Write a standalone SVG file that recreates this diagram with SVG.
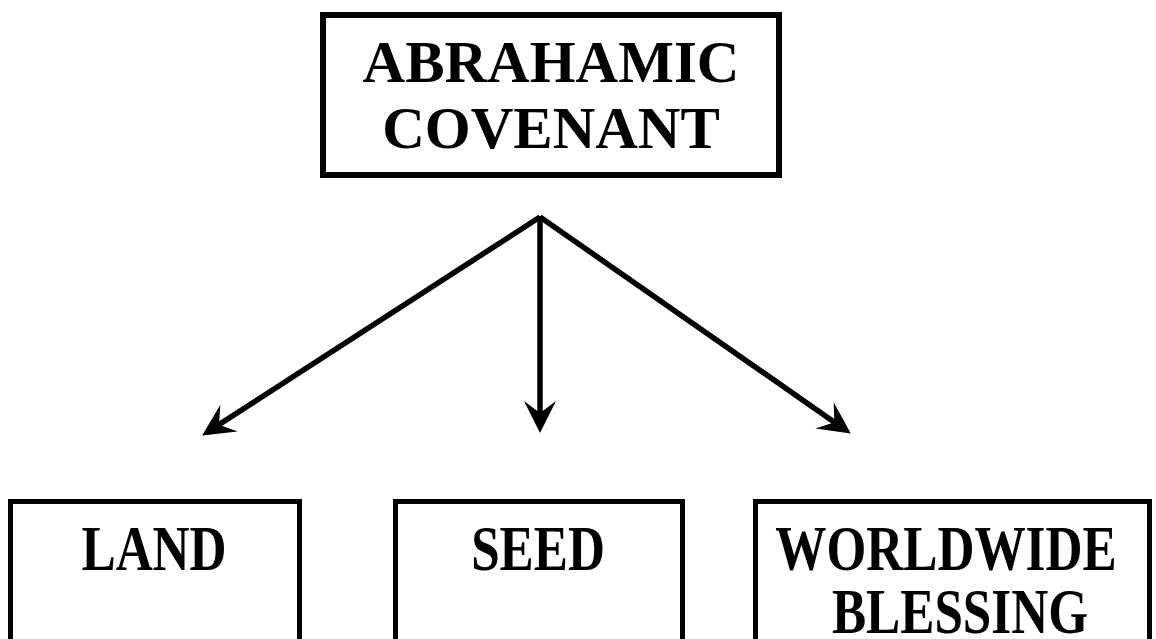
<svg xmlns="http://www.w3.org/2000/svg" width="1156" height="639" viewBox="0 0 1156 639">
  <style>
    .box { fill: #fff; stroke: #000; }
    .label { font-family: "Liberation Serif", "Times New Roman", serif; font-weight: bold; fill: #000; text-anchor: middle; }
    .tall { font-size: 64px; }
    .conn { stroke: #000; stroke-width: 5.5; fill: none; }
  </style>
  <defs>
    <marker id="arrow" markerUnits="userSpaceOnUse" viewBox="-13 -17 35 34" markerWidth="35" markerHeight="34" refX="0" refY="0" orient="auto">
      <path d="M20,0 L-12,-16 L0,0 L-12,16 Z" fill="#000"/>
    </marker>
  </defs>
  <rect width="1156" height="639" fill="#fff"/>

  <g id="abrahamic-covenant">
    <rect class="box" x="323" y="15" width="456" height="160" stroke-width="6"/>
    <text class="label" x="551" y="82" font-size="59">ABRAHAMIC</text>
    <text class="label" x="551" y="148" font-size="59">COVENANT</text>
  </g>

  <g id="connectors">
    <line class="conn" x1="540" y1="217" x2="218.95" y2="424.68" marker-end="url(#arrow)"/>
    <line class="conn" x1="540" y1="216" x2="540" y2="413" marker-end="url(#arrow)"/>
    <line class="conn" x1="540" y1="217" x2="834.41" y2="422.14" marker-end="url(#arrow)"/>
  </g>

  <g id="land">
    <rect class="box" x="10.5" y="501.5" width="289" height="200" stroke-width="5"/>
    <text class="label tall" transform="translate(154 570) scale(0.8 1)">LAND</text>
  </g>

  <g id="seed">
    <rect class="box" x="395.5" y="501.5" width="287" height="200" stroke-width="5"/>
    <text class="label tall" transform="translate(538 570) scale(0.8 1)">SEED</text>
  </g>

  <g id="worldwide-blessing">
    <rect class="box" x="755.5" y="501.5" width="394" height="200" stroke-width="5"/>
    <text class="label tall" transform="translate(946 570) scale(0.8 1)">WORLDWIDE</text>
    <text class="label tall" transform="translate(960 633) scale(0.8 1)">BLESSING</text>
  </g>
</svg>
